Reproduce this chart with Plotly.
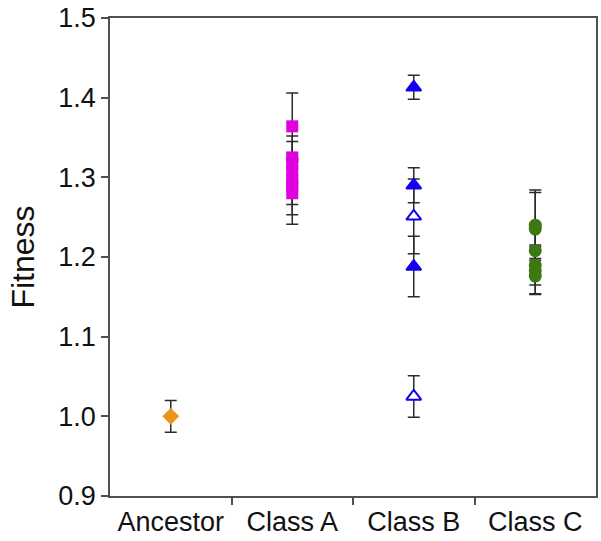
import plotly.graph_objects as go

categories = ['Ancestor', 'Class A', 'Class B', 'Class C']

ancestor_fitness = [1.000]
ancestor_err = [0.020]

class_a_fitness = [1.364, 1.325, 1.317, 1.308, 1.298, 1.289, 1.280]
class_a_err = [0.042, 0.027, 0.028, 0.015, 0.032, 0.036, 0.039]

class_b_fitness = [1.413, 1.290, 1.251, 1.188, 1.025]
class_b_err = [0.015, 0.022, 0.047, 0.038, 0.026]
class_b_open = [False, False, True, False, True]

class_c_fitness = [1.240, 1.235, 1.208, 1.190, 1.183, 1.176]
class_c_err = [0.044, 0.046, 0.030, 0.025, 0.030, 0.022]

BAR_COLOR = '#2b2b2b'
AXIS_COLOR = '#505050'


def group_trace(pos, values, errors, symbol, color, size, fill=None):
    fill = fill or [color] * len(values)
    return go.Scatter(
        x=[pos] * len(values),
        y=values,
        mode='markers',
        marker=dict(symbol=symbol, size=size, color=fill,
                    line=dict(color=color, width=2 if symbol == 'triangle-up' else 0)),
        error_y=dict(type='data', array=errors, visible=True,
                     color=BAR_COLOR, thickness=1.5, width=6),
        showlegend=False,
    )


fig = go.Figure()
fig.add_trace(group_trace(1, ancestor_fitness, ancestor_err, 'diamond', '#E8961E', 13))
fig.add_trace(group_trace(2, class_a_fitness, class_a_err, 'square', '#E000E0', 12))
b_fill = ['white' if o else '#1400F0' for o in class_b_open]
fig.add_trace(group_trace(3, class_b_fitness, class_b_err, 'triangle-up', '#1400F0', 13, b_fill))
fig.add_trace(group_trace(4, class_c_fitness, class_c_err, 'circle', '#3C7814', 13))

fig.update_layout(
    width=601,
    height=541,
    margin=dict(l=110, r=3, t=12, b=45),
    plot_bgcolor='white',
    paper_bgcolor='white',
    font=dict(family='Liberation Sans, Arial, sans-serif', size=27, color='#111'),
    xaxis=dict(
        range=[0.5, 4.5],
        tickvals=[1, 2, 3, 4],
        ticktext=categories,
        ticks='',
        showgrid=False,
        zeroline=False,
        showline=True,
        mirror=True,
        linecolor=AXIS_COLOR,
        linewidth=1.5,
        ticklabelstandoff=1,
        minor=dict(tickvals=[1.5, 2.5, 3.5], ticks='outside', ticklen=7,
                   tickwidth=1.5, tickcolor=AXIS_COLOR, showgrid=False),
    ),
    yaxis=dict(
        range=[0.9, 1.5],
        tickvals=[0.9, 1.0, 1.1, 1.2, 1.3, 1.4, 1.5],
        tickformat='.1f',
        ticklabeloverflow='allow',
        ticks='outside',
        ticklen=7,
        tickwidth=1.5,
        tickcolor=AXIS_COLOR,
        showgrid=False,
        zeroline=False,
        showline=True,
        mirror=True,
        linecolor=AXIS_COLOR,
        linewidth=1.5,
        title=dict(text='Fitness', font=dict(size=32), standoff=14),
    ),
)

# drop the default page margin so the figure sits at the window's corner
fig.write_html('out.html', config={'displayModeBar': False},
               post_script="document.body.style.margin = '0';")
